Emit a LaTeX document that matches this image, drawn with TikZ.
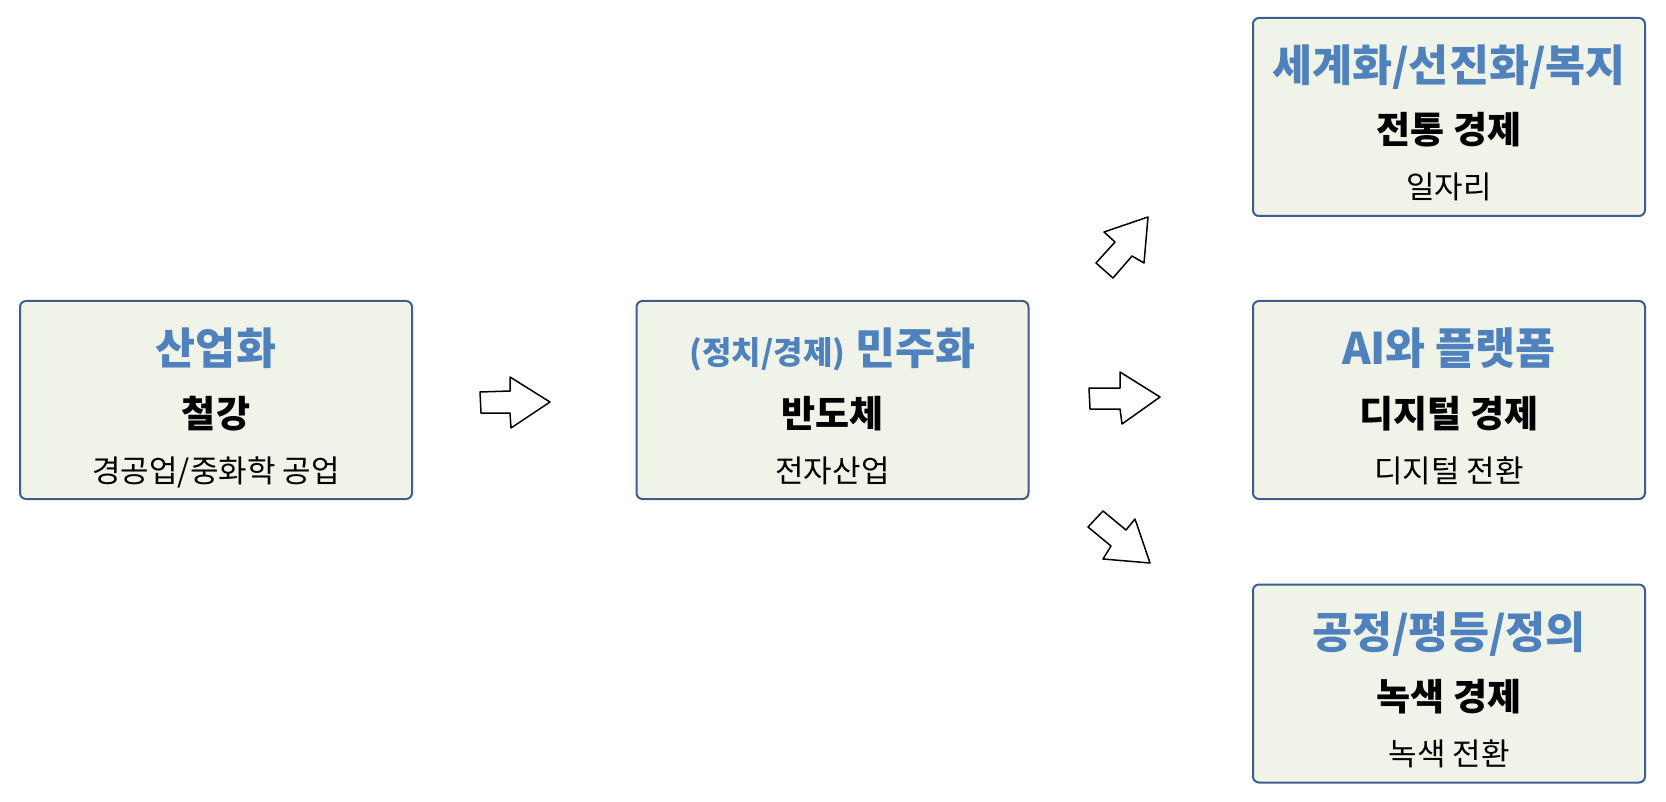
\documentclass[tikz,border=0pt]{standalone}
\usepackage{fontspec}
\setmainfont{Noto Sans CJK KR}
\definecolor{boxfill}{RGB}{240,244,232}
\definecolor{boxline}{RGB}{62,94,142}
\definecolor{titleblue}{RGB}{79,129,189}
\tikzset{
  panel/.style={draw=boxline,fill=boxfill,line width=2pt,rounded corners=6pt,
    minimum width=392pt,minimum height=198pt,inner sep=0pt},
  titletext/.style={anchor=base,inner sep=0pt,text=titleblue,font=\fontsize{43.5}{50}\selectfont\bfseries},
  boldtext/.style={anchor=base,inner sep=0pt,text=black,font=\fontsize{37}{44}\selectfont\bfseries},
  subtext/.style={anchor=base,inner sep=0pt,text=black,font=\fontsize{31}{37}\selectfont},
  blockarrow/.style={draw=black,fill=white,line width=1.5pt,line join=round}
}
\newcommand{\mypanel}[7]{%
  \node[panel] (#1) at (#2,#3) {};
  \node[titletext] (#1t) at (#2,#3-35.5) {#5};
  \node[boldtext] (#1b) at (#2,#3+27) {#6};
  \node[subtext] (#1s) at (#2,#3+82) {#7};
}
\begin{document}
\begin{tikzpicture}[x=1pt,y=-1pt]
\useasboundingbox (0,0) rectangle (1666,802);
\mypanel{p1}{216}{400}{}{산업화}{철강}{경공업/중화학 공업}
\mypanel{p2}{832.5}{400}{}{{\fontsize{32}{38}\selectfont(정치/경제)}\ 민주화}{반도체}{전자산업}
\mypanel{p3}{1449}{117}{}{세계화/선진화/복지}{전통 경제}{일자리}
\mypanel{p4}{1449}{400}{}{AI와 플랫폼}{디지털 경제}{디지털 전환}
\mypanel{p5}{1449}{683.5}{}{공정/평등/정의}{녹색 경제}{녹색 전환}
% block arrows
\draw[blockarrow] (480,392) -- (510,391) -- (510,377) -- (550,402) -- (511,428) -- (510,413) -- (481,413) -- cycle;
\draw[blockarrow] (1089,388) -- (1120,388) -- (1120,372) -- (1160,397) -- (1122,424) -- (1120,409) -- (1090,409) -- cycle;
\draw[blockarrow] (1148,217) -- (1104,232) -- (1115,242) -- (1096,263) -- (1113,278) -- (1132,256) -- (1144,263) -- cycle;
\draw[blockarrow] (1103,511) -- (1088,527) -- (1111,546) -- (1103,559) -- (1150,563) -- (1135,519) -- (1126,530) -- cycle;
\end{tikzpicture}
\end{document}
